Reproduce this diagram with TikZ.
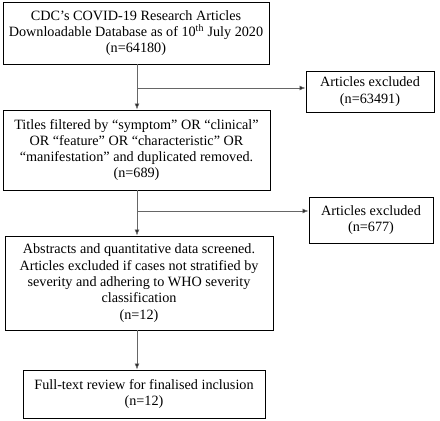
\documentclass[tikz,border=0pt]{standalone}
\usepackage{fontspec}
\setmainfont{Liberation Serif}
\usetikzlibrary{arrows.meta}
\usetikzlibrary{positioning}
\tikzset{>=latex}
\tikzstyle{box} = [rectangle, draw=black, line width=0.9pt, align=center, inner sep=1pt, font=\fontsize{14.2}{16.3}\selectfont]
\tikzstyle{flow} = [-{Latex[length=6pt,width=5pt,fill=black]}, draw=black!60, line width=0.8pt]

\begin{document}
\begin{tikzpicture}[x=1pt, y=-1pt]
\useasboundingbox (0,0) rectangle (440,421);
\node [box, minimum width=266pt, minimum height=62pt] (db) at (136, 33) {CDC’s COVID-19 Research Articles\\Downloadable Database as of 10\textsuperscript{th} July 2020\\(n=64180)};
\node [box, minimum width=267pt, minimum height=80pt] (titles) at (136.5, 150) {Titles filtered by “symptom” OR “clinical”\\OR “feature” OR “characteristic” OR\\“manifestation” and duplicated removed.\\(n=689)};
\node [box, minimum width=268pt, minimum height=94pt] (abstr) at (139, 283) {Abstracts and quantitative data screened.\\Articles excluded if cases not stratified by\\severity and adhering to WHO severity\\classification\\(n=12)};
\node [box, minimum width=242pt, minimum height=48pt] (full) at (144, 394) {Full-text review for finalised inclusion\\(n=12)};
\node [box, minimum width=128pt, minimum height=41pt] (exA) at (370, 91.5) {Articles excluded\\(n=63491)};
\node [box, minimum width=124pt, minimum height=46pt] (exB) at (371, 220) {Articles excluded\\(n=677)};
%\node [draw=none] at (220, 0) {};
\coordinate (jA) at (137, 88);
\coordinate (jB) at (137, 211);
\draw [flow] (db.south -| jA) to (titles.north -| jA);
\draw [flow] (jA) to (jA -| exA.west);
\draw [flow] (titles.south -| jB) to (abstr.north -| jB);
\draw [flow] (jB) to (jB -| exB.west);
\draw [flow] (abstr.south -| jB) to (full.north -| jB);
\end{tikzpicture}
\end{document}
